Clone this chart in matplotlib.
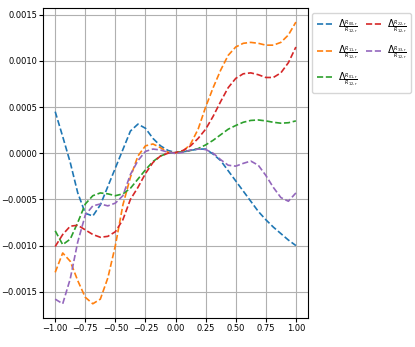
import numpy as np
import matplotlib
matplotlib.use('Agg')
import matplotlib.pyplot as plt

# x positions, step 0.0625
x = np.linspace(-1, 1, 33)

# values, in units of 1e-4
r00 = [4.5, 1.8, -1.0, -4.3, -6.5, -6.8, -5.6, -3.6, -1.6, 0.4, 2.4, 3.15, 2.7,
       1.6, 0.8, 0.3, 0.07, 0.15, 0.3, 0.45, 0.45, -0.1, -0.8, -1.9, -3.0, -4.1,
       -5.2, -6.3, -7.2, -8.0, -8.7, -9.4, -10.0]
r11 = [-12.9, -10.8, -11.7, -13.8, -15.6, -16.3, -15.8, -13.5, -10.0, -5.6, -2.6,
       -0.3, 0.8, 1.0, 0.6, 0.1, 0.05, 0.2, 1.0, 2.6, 5.0, 7.1, 9.0, 10.6, 11.5,
       11.9, 12.0, 11.9, 11.7, 11.7, 12.0, 12.8, 14.2]
r01 = [-8.4, -9.9, -9.3, -7.5, -5.5, -4.6, -4.3, -4.4, -4.6, -4.4, -3.8, -2.8,
       -1.8, -0.9, -0.3, 0.0, 0.07, 0.15, 0.3, 0.5, 0.9, 1.4, 2.0, 2.6, 3.0, 3.35,
       3.55, 3.6, 3.5, 3.35, 3.25, 3.3, 3.5]
r22 = [-10.1, -8.8, -7.9, -7.8, -8.3, -8.8, -9.1, -9.0, -8.5, -7.2, -5.0, -3.7,
       -2.2, -1.0, -0.3, 0.0, 0.07, 0.3, 0.8, 1.6, 2.6, 4.0, 5.6, 7.1, 8.1, 8.6,
       8.7, 8.5, 8.2, 8.2, 8.7, 9.8, 11.5]
r33 = [-15.8, -16.3, -13.6, -9.6, -6.7, -5.7, -5.5, -5.7, -5.4, -4.6, -2.3, -0.8,
       0.2, 0.45, 0.35, 0.1, -0.03, 0.1, 0.35, 0.45, 0.4, 0.0, -0.7, -1.3, -1.4,
       -1.1, -0.85, -1.3, -2.4, -3.7, -4.8, -5.2, -4.3]

labels = [r'$\Delta_{\frac{R_{00,r}}{R_{12,r}}}$',
          r'$\Delta_{\frac{R_{11,r}}{R_{12,r}}}$',
          r'$\Delta_{\frac{R_{01,r}}{R_{12,r}}}$',
          r'$\Delta_{\frac{R_{22,r}}{R_{12,r}}}$',
          r'$\Delta_{\frac{R_{33,r}}{R_{12,r}}}$']
series = [r00, r11, r01, r22, r33]

fig = plt.figure(figsize=(4.15, 3.47), dpi=100)
ax = fig.add_axes([0.104, 0.084, 0.638, 0.893])
for s, lab in zip(series, labels):
    ax.plot(x, np.array(s) * 1e-4, '--', lw=1.2, label=lab)

ax.grid(True)
ax.tick_params(labelsize=6, length=3, pad=1.5)
ax.legend(loc='upper left', bbox_to_anchor=(1.015, 0.985), borderaxespad=0,
          ncol=2, fontsize=7, handlelength=1.8, handletextpad=0.4,
          columnspacing=0.8, labelspacing=1.0, borderpad=0.5)

fig.savefig('out.png', dpi=100)
